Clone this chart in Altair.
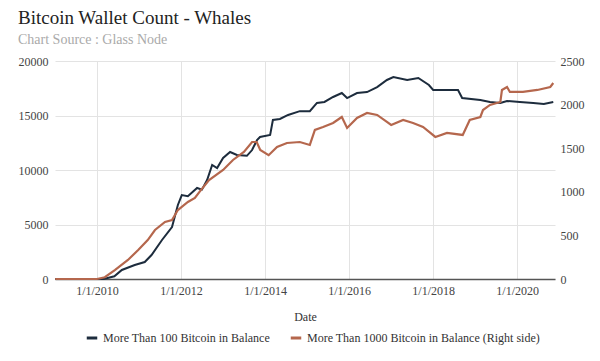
import altair as alt
import pandas as pd

S1 = "More Than 100 Bitcoin in Balance"
S2 = "More Than 1000 Bitcoin in Balance (Right side)"

dates_100 = [
    "2009-01-03", "2010-03-01", "2010-06-01", "2010-08-05", "2010-11-25", "2011-02-20",
    "2011-04-20", "2011-07-20", "2011-10-15", "2011-12-05", "2012-01-08", "2012-03-01",
    "2012-05-20", "2012-07-01", "2012-08-15", "2012-09-28", "2012-11-10", "2013-01-01",
    "2013-03-03", "2013-05-01", "2013-07-27", "2013-09-10", "2013-10-23", "2013-11-18",
    "2014-02-14", "2014-03-10", "2014-05-10", "2014-07-20", "2014-10-30", "2015-01-25",
    "2015-03-28", "2015-06-01", "2015-08-15", "2015-10-30", "2015-12-15", "2016-03-10",
    "2016-06-05", "2016-09-01", "2016-11-25", "2017-01-20", "2017-05-20", "2017-08-25",
    "2017-11-25", "2018-01-01", "2018-08-05", "2018-09-10", "2019-02-15", "2019-05-10",
    "2019-08-08", "2019-10-05", "2020-01-25", "2020-05-20", "2020-08-20", "2020-11-10",
]
vals_100 = [
    0, 0, 250, 830, 1280, 1560,
    2200, 3580, 4770, 6790, 7700, 7600,
    8350, 8200, 9080, 10460, 10180, 11100,
    11650, 11380, 11300, 11830, 12750, 13030,
    13210, 14590, 14680, 15050, 15400, 15400,
    16150, 16240, 16700, 17060, 16600, 17060,
    17150, 17610, 18260, 18530, 18260, 18440,
    17800, 17340, 17340, 16600, 16420, 16240,
    16150, 16330, 16240, 16150, 16050, 16240,
]

dates_1000 = [
    "2009-01-03", "2010-01-01", "2010-03-10", "2010-06-05", "2010-09-27", "2010-12-25",
    "2011-03-18", "2011-05-20", "2011-08-15", "2011-10-15", "2011-12-05", "2012-01-08",
    "2012-03-01", "2012-05-01", "2012-06-10", "2012-09-01", "2013-01-01", "2013-03-28",
    "2013-07-01", "2013-09-10", "2013-10-20", "2013-11-20", "2014-02-01", "2014-04-15",
    "2014-07-10", "2014-10-30", "2015-01-25", "2015-03-10", "2015-05-20", "2015-08-15",
    "2015-10-30", "2015-12-15", "2016-03-10", "2016-06-05", "2016-09-01", "2016-11-25",
    "2017-01-01", "2017-04-15", "2017-07-10", "2017-10-05", "2018-01-20", "2018-05-01",
    "2018-09-15", "2018-11-15", "2019-02-15", "2019-03-10", "2019-05-10", "2019-08-08",
    "2019-08-22", "2019-10-05", "2019-10-30", "2020-02-20", "2020-06-25", "2020-10-15",
    "2020-11-10",
]
vals_1000 = [
    0, 0, 20, 103, 218, 333,
    447, 562, 654, 677, 791, 826,
    883, 929, 1000, 1135, 1250, 1365,
    1457, 1571, 1571, 1480, 1420, 1514,
    1560, 1571, 1537, 1709, 1743, 1789,
    1858, 1732, 1847, 1904, 1881, 1801,
    1766, 1824, 1789, 1743, 1629, 1675,
    1652, 1824, 1858, 1938, 1996, 2030,
    2168, 2202, 2145, 2145, 2168, 2202,
    2248,
]

df1 = pd.DataFrame({"date": dates_100, "value": vals_100, "series": S1})
df2 = pd.DataFrame({"date": dates_1000, "value": vals_1000, "series": S2})

SERIF = "Liberation Serif"
NAVY = "#1d2c3d"
RUST = "#b5674d"

color = alt.Color(
    "series:N",
    scale=alt.Scale(domain=[S1, S2], range=[NAVY, RUST]),
    legend=alt.Legend(
        title=None, orient="none", direction="horizontal",
        legendX=30, legendY=270, symbolType="stroke", symbolStrokeWidth=3,
        symbolSize=110, labelFont=SERIF, labelFontSize=12, labelColor="#333",
        columnPadding=14, labelLimit=400,
    ),
)

x = alt.X(
    "date:T",
    title="Date",
    scale=alt.Scale(domain=[alt.DateTime(year=2009, month=1, date=1),
                            alt.DateTime(year=2020, month=11, date=25)]),
    axis=alt.Axis(
        values=[alt.DateTime(year=y, month=1, date=1) for y in [2010, 2012, 2014, 2016, 2018, 2020]],
        format="%-m/%-d/%Y", labelFont=SERIF, labelFontSize=12, labelColor="#444",
        titleFont=SERIF, titleFontSize=12, titleFontWeight="normal", titleColor="#333",
        titlePadding=15, labelPadding=6, ticks=False, grid=True, gridColor="#e3e3e3",
        domainColor="#555", domainWidth=1.5,
    ),
)

left = alt.Chart(df1).mark_line(strokeWidth=2).encode(
    x=x,
    y=alt.Y("value:Q", title=None, scale=alt.Scale(domain=[0, 20000]),
            axis=alt.Axis(values=[0, 5000, 10000, 15000, 20000], format="d",
                          labelFont=SERIF, labelFontSize=12, labelColor="#444",
                          ticks=False, domain=False, grid=True, gridColor="#e3e3e3",
                          labelPadding=7)),
    color=color,
)

right = alt.Chart(df2).mark_line(strokeWidth=2.2).encode(
    x=x,
    y=alt.Y("value:Q", title=None, scale=alt.Scale(domain=[0, 2500]),
            axis=alt.Axis(orient="right", values=[0, 500, 1000, 1500, 2000, 2500], format="d",
                          labelFont=SERIF, labelFontSize=12, labelColor="#444",
                          ticks=False, domain=False, grid=False, labelPadding=5)),
    color=color,
)

chart = alt.layer(left, right).resolve_scale(y="independent").properties(
    width=500, height=218,
    autosize=alt.AutoSizeParams(type="none"),
    padding={"left": 47, "top": 53, "right": 37, "bottom": 70},
    title=alt.TitleParams(
        text="Bitcoin Wallet Count - Whales",
        subtitle="Chart Source : Glass Node",
        anchor="start", frame="bounds", font=SERIF, fontSize=19, fontWeight="normal",
        color="#222", subtitleFont=SERIF, subtitleFontSize=14, subtitleColor="#aaa",
        subtitlePadding=5, offset=8,
    ),
).configure_view(stroke=None)

chart.save("out.html", embed_options={"renderer": "svg", "actions": False})
